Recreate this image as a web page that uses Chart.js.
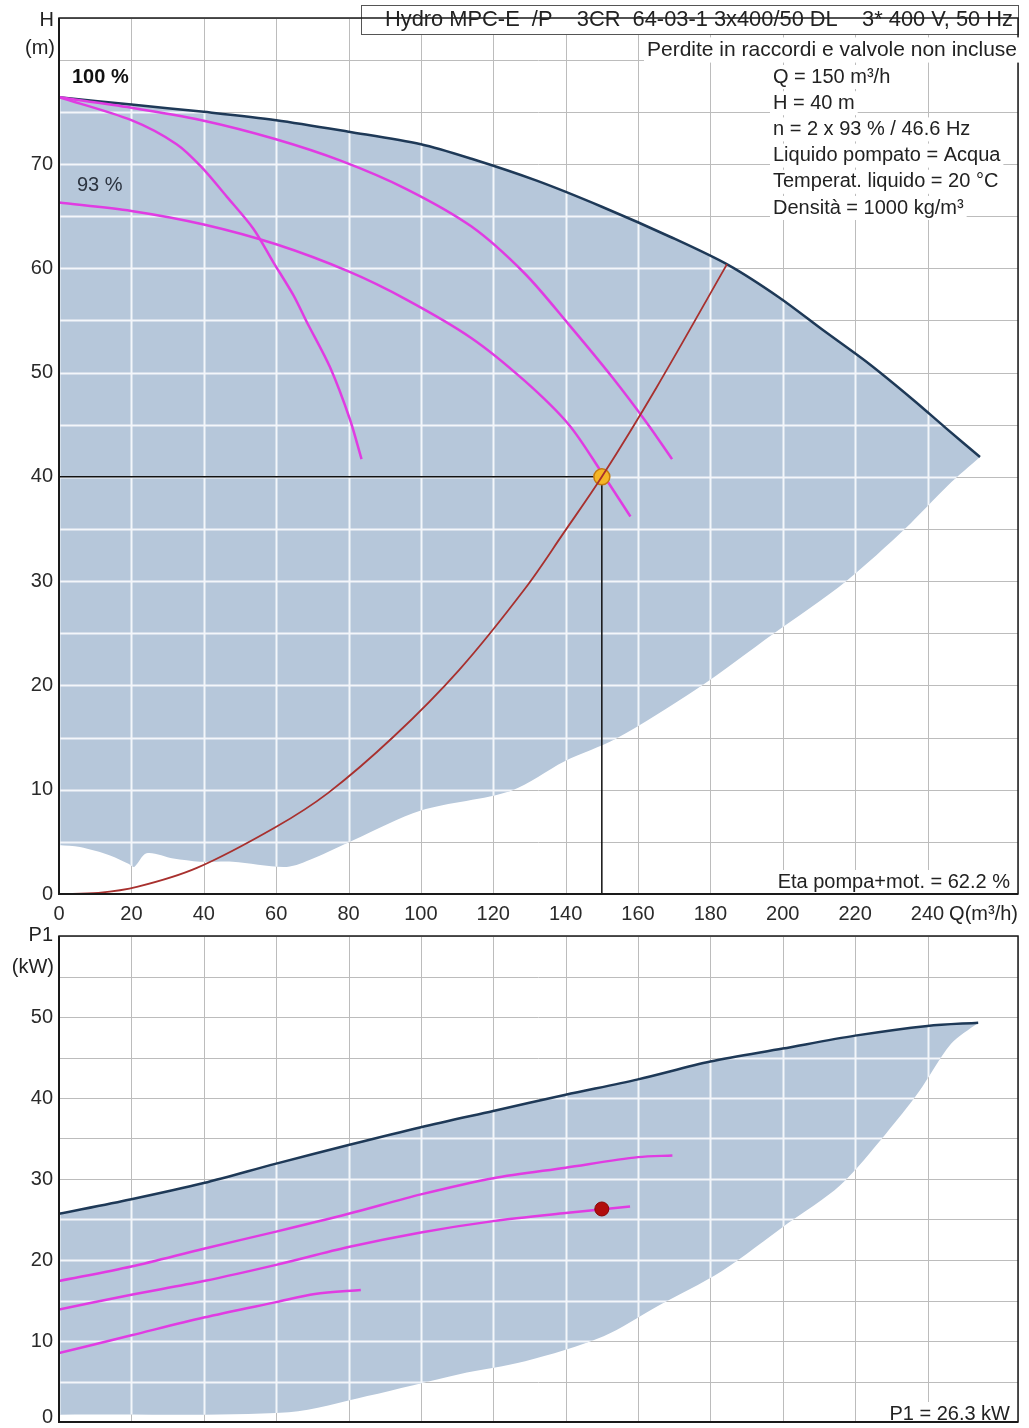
<!DOCTYPE html>
<html>
<head>
<meta charset="utf-8">
<script src="https://cdn.jsdelivr.net/npm/chart.js@4.4.0/dist/chart.umd.min.js"></script>
<style>
  html, body { margin: 0; padding: 0; background: #fff; overflow: hidden; }
  body { width: 1029px; height: 1428px; position: relative; }
  canvas { position: absolute; left: 0; }
  #headChart { top: 0; }
  #powerChart { top: 918px; }
</style>
</head>
<body>
<canvas id="headChart" width="1029" height="930" style="width:1029px;height:930px"></canvas>
<canvas id="powerChart" width="1029" height="522" style="width:1029px;height:522px"></canvas>
<script>
// pump sheet: head H (top) and power P1 (bottom) against flow Q

// ---- head curves, Q in m3/h, H in m ----
// upper limit of the operating area (100 % speed, dark line)
const qMax = [0, 20, 40, 60, 80, 100, 114, 132, 150, 169, 185, 199, 211, 224, 236, 245, 254.5];
const hMax = [76.4, 75.7, 75.0, 74.2, 73.1, 71.9, 70.5, 68.4, 65.9, 63.0, 60.3, 57.2, 54.1, 50.8, 47.4, 44.7, 41.9];
// lower limit, read right to left
const qMin = [254.5, 245.7, 234, 217.5, 197.6, 176, 154, 139.6, 125, 100, 81.6, 70.2, 62.9, 48, 39, 31.6, 24.2, 20.8, 19.2, 14.1, 5.8, 0];
const hMin = [41.9, 39.2, 35.1, 30.0, 25.0, 19.6, 14.9, 12.7, 9.9, 8.0, 5.2, 3.4, 2.6, 3.1, 3.1, 3.4, 3.9, 2.6, 2.9, 3.7, 4.5, 4.7];

// magenta pump curves
const qOne100 = [0, 20, 32.5, 39.4, 46.3, 53.7, 59.2, 64.8, 68.4, 74.9, 80.4, 83.6];
const hOne100 = [76.4, 74.2, 71.9, 69.7, 66.9, 63.8, 60.6, 57.4, 54.9, 50.5, 45.5, 41.7];
const qTwo93 = [0, 20, 40, 60, 80, 96, 114, 128.7, 140.9, 150, 157.9];
const hTwo93 = [66.3, 65.5, 64.2, 62.3, 59.7, 57.0, 53.3, 49.2, 45.0, 40.4, 36.2];
const qTwo100 = [0, 20, 39.4, 59.7, 78, 96, 114, 128.7, 140.9, 153, 162.8, 169.4];
const hTwo100 = [76.4, 75.4, 74.2, 72.4, 70.3, 67.6, 64.0, 59.5, 54.6, 49.5, 45.0, 41.7];

// system curve (red)
const qSys = [0, 10.9, 21.8, 38.1, 59.8, 74.4, 92.5, 110.6, 128.8, 139.6, 150, 165, 184.6];
const hSys = [0, 0.1, 0.7, 2.5, 6.4, 9.7, 15.1, 21.5, 29.3, 34.7, 40, 48.5, 60.4];

// duty point
const dutyQ = [150];
const dutyH = [40];
const dutyP = [26.3];

// ---- power curves, P1 in kW ----
const qPowMax = [0, 20, 40, 60, 80, 100, 120, 140, 160, 180, 200, 220, 240, 254];
const pPowMax = [25.7, 27.5, 29.5, 31.9, 34.2, 36.4, 38.4, 40.4, 42.3, 44.5, 46.1, 47.7, 48.9, 49.3];
const qPowMin = [254, 246.5, 237.5, 228.5, 215.8, 201.3, 183.1, 165, 150.5, 128.8, 110.6, 85.2, 63.5, 0];
const pPowMin = [49.3, 46.7, 40.7, 35.6, 29.2, 24.5, 18.6, 14.2, 10.6, 7.5, 5.9, 3.2, 1.2, 0.9];

const qPowTwo100 = [0, 20, 40, 60, 80, 100, 120, 140, 160, 169.5];
const pPowTwo100 = [17.4, 19.2, 21.4, 23.5, 25.7, 28.1, 30.1, 31.4, 32.7, 32.9];
const qPowTwo93 = [0, 20, 40, 60, 80, 100, 120, 140, 157.8];
const pPowTwo93 = [13.9, 15.7, 17.4, 19.4, 21.6, 23.4, 24.8, 25.8, 26.6];
const qPowOne100 = [0, 20, 40, 60, 70.7, 83.4];
const pPowOne100 = [8.5, 10.7, 12.9, 14.8, 15.8, 16.3];

// axis ticks
const qTickStep = 20, qLastLabel = 240, qAxisMax = 265;
const hTickStep = 5, hLabelStep = 10, hLabelMax = 70, hAxisMax = 84;
const pTickStep = 5, pLabelStep = 10, pLabelMax = 50, pAxisMax = 60;

const FONT = "'Liberation Sans', Arial, sans-serif";
const MAGENTA = '#e03ce2';
const AREA = '#b6c7da';
const NAVY = '#1e3957';

function pts(xs, ys) {
  return xs.map((x, i) => ({ x: x, y: ys[i] }));
}

function curve(data, color, width, tension) {
  return { data: data, borderColor: color, borderWidth: width, pointRadius: 0, fill: false, tension: tension || 0 };
}

function area(data) {
  return { data: data, borderWidth: 0, pointRadius: 0, backgroundColor: AREA, fill: 'shape', tension: 0.3 };
}

function drawGrid(chart, color, width) {
  const { ctx, chartArea: a, scales } = chart;
  ctx.save();
  ctx.strokeStyle = color;
  ctx.lineWidth = width;
  ctx.beginPath();
  scales.x.ticks.forEach(t => {
    const px = Math.round(scales.x.getPixelForValue(t.value)) + 0.5;
    ctx.moveTo(px, a.top);
    ctx.lineTo(px, a.bottom);
  });
  scales.y.ticks.forEach(t => {
    const py = Math.round(scales.y.getPixelForValue(t.value)) + 0.5;
    ctx.moveTo(a.left, py);
    ctx.lineTo(a.right, py);
  });
  ctx.stroke();
  ctx.restore();
}

function drawNote(ctx, n) {
  ctx.save();
  ctx.font = (n.bold ? 'bold ' : '') + n.size + 'px ' + FONT;
  ctx.textAlign = n.align || 'left';
  ctx.textBaseline = 'middle';
  let w = ctx.measureText(n.text).width;
  if (n.maxWidth) w = Math.min(w, n.maxWidth);
  if (n.bg) {
    const left = n.align === 'right' ? n.x - w : n.x;
    ctx.fillStyle = '#fff';
    ctx.fillRect(left - 3, n.y - n.size * 0.6, w + 6, n.size * 1.2);
  }
  ctx.fillStyle = n.color || '#222';
  if (n.maxWidth) ctx.fillText(n.text, n.x, n.y, n.maxWidth);
  else ctx.fillText(n.text, n.x, n.y);
  ctx.restore();
}

// grid is grey on paper and white on the blue area, black frame, notes on top
const sheetPlugin = {
  id: 'sheet',
  beforeDatasetsDraw(chart) {
    drawGrid(chart, '#bcbcbc', 1);
  },
  afterDatasetDraw(chart, args) {
    if (args.index !== chart.data.datasets.length - 1) return;
    const ctx = chart.ctx;
    ctx.save();
    ctx.beginPath();
    args.meta.dataset.path(ctx);
    ctx.closePath();
    ctx.clip();
    drawGrid(chart, '#f3f6fa', 2);
    ctx.restore();
  },
  afterDraw(chart, args, opts) {
    const ctx = chart.ctx, a = chart.chartArea;
    ctx.save();
    (opts.boxes || []).forEach(b => {
      ctx.fillStyle = '#fff';
      ctx.fillRect(b.x, b.y, b.w, b.h);
      if (b.stroke) {
        ctx.strokeStyle = b.stroke;
        ctx.lineWidth = 1;
        ctx.strokeRect(b.x + 0.5, b.y + 0.5, b.w, b.h);
      }
    });
    ctx.strokeStyle = '#1a1a1a';
    ctx.lineWidth = 1.5;
    ctx.strokeRect(a.left, a.top, a.right - a.left, a.bottom - a.top);
    ctx.lineWidth = 2;
    ctx.beginPath();
    ctx.moveTo(a.left, a.top);
    ctx.lineTo(a.left, a.bottom);
    ctx.lineTo(a.right, a.bottom);
    ctx.stroke();
    ctx.restore();
    (opts.notes || []).forEach(n => drawNote(ctx, n));
  }
};

function axes(yMax, yStep, yLabelStep, yLabelMax, showX, xHeight, yHideZero) {
  return {
    x: {
      type: 'linear', min: 0, max: qAxisMax,
      grid: { display: false, drawTicks: false },
      border: { display: false },
      ticks: {
        display: showX, stepSize: qTickStep, autoSkip: false, maxRotation: 0, padding: 8,
        color: '#2a2a2a', font: { family: FONT, size: 20 },
        callback: v => (v % qTickStep === 0 && v <= qLastLabel) ? String(v) : ''
      },
      afterFit: s => { s.height = xHeight; }
    },
    y: {
      type: 'linear', min: 0, max: yMax,
      grid: { display: false, drawTicks: false },
      border: { display: false },
      ticks: {
        stepSize: yStep, autoSkip: false, padding: 6,
        color: '#2a2a2a', font: { family: FONT, size: 20 },
        callback: v => (v % yLabelStep === 0 && v <= yLabelMax && !(yHideZero && v === 0)) ? String(v) : ''
      },
      afterFit: s => { s.width = 59; }
    }
  };
}

const common = {
  responsive: false,
  animation: false,
  devicePixelRatio: 1,
  events: [],
  plugins: { legend: { display: false }, tooltip: { enabled: false } }
};

// ---- head chart ----
const headInfo = ['Q = 150 m³/h', 'H = 40 m', 'n = 2 x 93 % / 46.6 Hz', 'Liquido pompato = Acqua',
  'Temperat. liquido = 20 °C', 'Densità = 1000 kg/m³'];

new Chart(document.getElementById('headChart'), {
  type: 'line',
  data: {
    datasets: [
      curve(pts(qSys, hSys), '#a8302e', 1.8, 0.35),
      {
        data: pts(dutyQ, dutyH), pointRadius: 8, pointBackgroundColor: '#f4b626',
        pointBorderColor: '#c47a10', pointBorderWidth: 1.5, showLine: false
      },
      curve([{ x: 0, y: dutyH[0] }, { x: dutyQ[0], y: dutyH[0] }, { x: dutyQ[0], y: 0 }], '#111', 1.5),
      curve(pts(qOne100, hOne100), MAGENTA, 2.5, 0.3),
      curve(pts(qTwo93, hTwo93), MAGENTA, 2.5, 0.3),
      curve(pts(qTwo100, hTwo100), MAGENTA, 2.5, 0.3),
      curve(pts(qMax, hMax), NAVY, 2.5, 0.3),
      area(pts(qMax.concat(qMin), hMax.concat(hMin)))
    ]
  },
  options: Object.assign({}, common, {
    layout: { padding: { top: 5, right: 11, left: 0, bottom: 0 } },
    scales: axes(hAxisMax, hTickStep, hLabelStep, hLabelMax, true, 36, false),
    plugins: Object.assign({}, common.plugins, {
      sheet: {
        boxes: [
          { x: 361, y: 5, w: 657, h: 29, stroke: '#555' },
          { x: 750, y: 870, w: 266, h: 23 }
        ],
        notes: [
          { text: 'Hydro MPC-E  /P    3CR  64-03-1 3x400/50 DL    3* 400 V, 50 Hz', x: 1013, y: 20, size: 22, align: 'right', maxWidth: 628 },
          { text: 'Perdite in raccordi e valvole non incluse', x: 1017, y: 50, size: 21, align: 'right', bg: true },
          ...headInfo.map((t, i) => ({ text: t, x: 773, y: 77 + i * 26.2, size: 20, bg: true })),
          { text: 'Eta pompa+mot. = 62.2 %', x: 1010, y: 882, size: 20, align: 'right', maxWidth: 250 },
          { text: '100 %', x: 72, y: 77, size: 20, bold: true, color: '#111' },
          { text: '93 %', x: 77, y: 185, size: 20, color: '#2c3440' },
          { text: 'H', x: 54, y: 20, size: 20, align: 'right' },
          { text: '(m)', x: 55, y: 48, size: 20, align: 'right' },
          { text: 'Q(m³/h)', x: 1018, y: 914, size: 20, align: 'right' }
        ]
      }
    })
  }),
  plugins: [sheetPlugin]
});

// ---- power chart ----
new Chart(document.getElementById('powerChart'), {
  type: 'line',
  data: {
    datasets: [
      {
        data: pts(dutyQ, dutyP), pointRadius: 7, pointBackgroundColor: '#b10d0d',
        pointBorderColor: '#8a0606', pointBorderWidth: 1, showLine: false
      },
      curve(pts(qPowTwo100, pPowTwo100), MAGENTA, 2.5, 0.3),
      curve(pts(qPowTwo93, pPowTwo93), MAGENTA, 2.5, 0.3),
      curve(pts(qPowOne100, pPowOne100), MAGENTA, 2.5, 0.3),
      curve(pts(qPowMax, pPowMax), NAVY, 2.5, 0.3),
      area(pts(qPowMax.concat(qPowMin), pPowMax.concat(pPowMin)))
    ]
  },
  options: Object.assign({}, common, {
    layout: { padding: { top: 8, right: 11, left: 0, bottom: 0 } },
    scales: axes(pAxisMax, pTickStep, pLabelStep, pLabelMax, false, 10, true),
    plugins: Object.assign({}, common.plugins, {
      sheet: {
        boxes: [{ x: 870, y: 484, w: 146, h: 40 }],
        notes: [
          { text: 'P1 = 26.3 kW', x: 1010, y: 496, size: 20, align: 'right', maxWidth: 130 },
          { text: 'P1', x: 53, y: 17, size: 20, align: 'right' },
          { text: '(kW)', x: 54, y: 49, size: 20, align: 'right' },
          { text: '0', x: 53, y: 499, size: 20, align: 'right', color: '#2a2a2a' }
        ]
      }
    })
  }),
  plugins: [sheetPlugin]
});
</script>
</body>
</html>
